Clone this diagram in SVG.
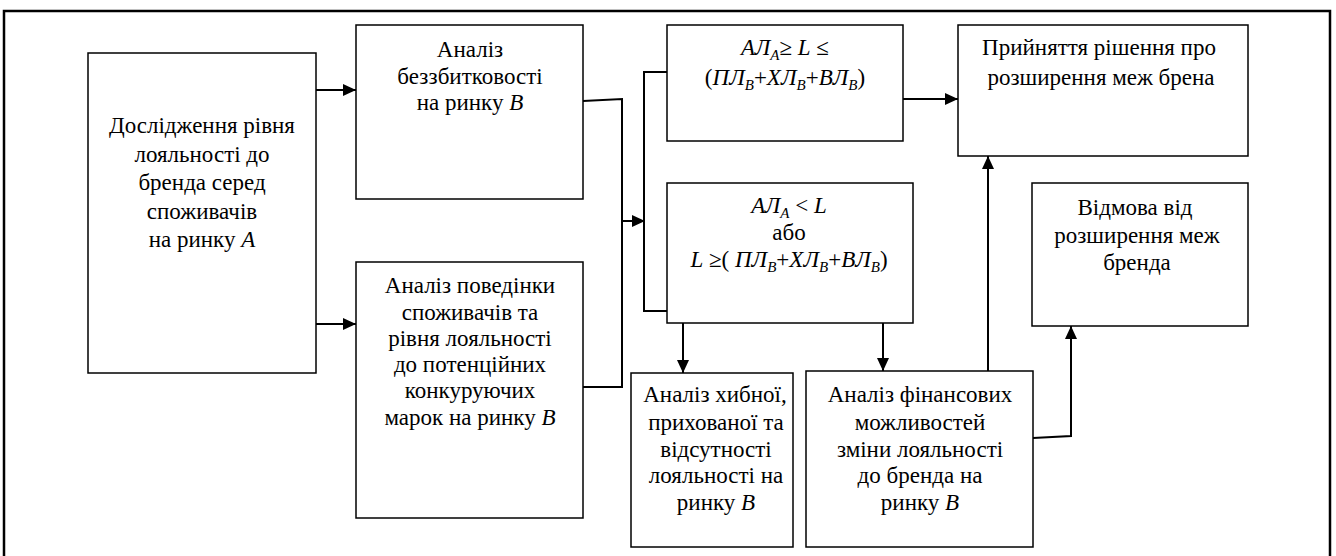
<svg xmlns="http://www.w3.org/2000/svg" width="1336" height="556" viewBox="0 0 1336 556" font-family="'Liberation Serif', serif">
  <defs>
    <marker id="arrow" markerUnits="userSpaceOnUse" markerWidth="14" markerHeight="12" refX="13" refY="6" orient="auto">
      <path d="M0,0 L13,6 L0,12 Z" fill="#000"/>
    </marker>
    <style>
      .frame { fill: none; stroke: #000; stroke-width: 2.5; }
      .box { fill: #fff; stroke: #000; stroke-width: 1.5; }
      .wire { fill: none; stroke: #000; stroke-width: 2; }
      .arr { marker-end: url(#arrow); }
      text { font-family: 'Liberation Serif', serif; font-size: 23px; fill: #000; text-anchor: middle; }
      .i { font-style: italic; }
      .sub { font-style: italic; font-size: 15px; }
    </style>
  </defs>

  <rect width="1336" height="556" fill="#fff"/>

  <!-- outer frame (open at the bottom) -->
  <path class="frame" d="M4,560 V11 H1330 V560"/>

  <g id="connectors">
    <path class="wire arr" d="M316,90 H356"/>
    <path class="wire arr" d="M316,324 H356"/>
    <path class="wire" d="M583,101 L622,99 V387 H583"/>
    <path class="wire arr" d="M622,221 H645"/>
    <path class="wire" d="M667,72 H644 V311 H667"/>
    <path class="wire arr" d="M903,99 H958"/>
    <path class="wire arr" d="M683,323 V373"/>
    <path class="wire arr" d="M883,323 V371"/>
    <path class="wire arr" d="M988,371 V156"/>
    <path class="wire arr" d="M1033,438 L1071,436 V326"/>
  </g>

  <g id="node-research">
    <rect class="box" x="88" y="53" width="228" height="320"/>
    <text x="202" y="133">Дослідження рівня</text>
    <text x="202" y="162">лояльності до</text>
    <text x="202" y="190">бренда серед</text>
    <text x="202" y="219">споживачів</text>
    <text x="202" y="247">на ринку <tspan class="i">A</tspan></text>
  </g>

  <g id="node-breakeven">
    <rect class="box" x="356" y="25" width="227" height="174"/>
    <text x="470" y="57">Аналіз</text>
    <text x="470" y="84">беззбитковості</text>
    <text x="470" y="110">на ринку <tspan class="i">B</tspan></text>
  </g>

  <g id="node-behaviour">
    <rect class="box" x="356" y="262" width="227" height="256"/>
    <text x="470" y="293">Аналіз поведінки</text>
    <text x="470" y="320">споживачів та</text>
    <text x="470" y="346">рівня лояльності</text>
    <text x="470" y="372">до потенційних</text>
    <text x="470" y="398">конкуруючих</text>
    <text x="470" y="425">марок на ринку <tspan class="i">B</tspan></text>
  </g>

  <g id="node-condition-yes">
    <rect class="box" x="667" y="25" width="236" height="116"/>
    <text x="785" y="55"><tspan class="i">АЛ</tspan><tspan class="sub" dy="5">A</tspan><tspan dy="-5">≥ </tspan><tspan class="i">L</tspan> ≤</text>
    <text x="785" y="85">(<tspan class="i">ПЛ</tspan><tspan class="sub" dy="5">B</tspan><tspan dy="-5">+</tspan><tspan class="i">ХЛ</tspan><tspan class="sub" dy="5">B</tspan><tspan dy="-5">+</tspan><tspan class="i">ВЛ</tspan><tspan class="sub" dy="5">B</tspan><tspan dy="-5">)</tspan></text>
  </g>

  <g id="node-condition-no">
    <rect class="box" x="667" y="183" width="246" height="140"/>
    <text x="789" y="213"><tspan class="i">АЛ</tspan><tspan class="sub" dy="5">A</tspan><tspan dy="-5"> &lt; </tspan><tspan class="i">L</tspan></text>
    <text x="789" y="240">або</text>
    <text x="789" y="267"><tspan class="i">L</tspan> ≥( <tspan class="i">ПЛ</tspan><tspan class="sub" dy="5">B</tspan><tspan dy="-5">+</tspan><tspan class="i">ХЛ</tspan><tspan class="sub" dy="5">B</tspan><tspan dy="-5">+</tspan><tspan class="i">ВЛ</tspan><tspan class="sub" dy="5">B</tspan><tspan dy="-5">)</tspan></text>
  </g>

  <g id="node-accept">
    <rect class="box" x="958" y="25" width="290" height="131"/>
    <text x="1099" y="55">Прийняття рішення про</text>
    <text x="1101" y="85">розширення меж брена</text>
  </g>

  <g id="node-refuse">
    <rect class="box" x="1032" y="183" width="216" height="143"/>
    <text x="1135" y="215">Відмова від</text>
    <text x="1137" y="243">розширення меж</text>
    <text x="1137" y="270">бренда</text>
  </g>

  <g id="node-false-loyalty">
    <rect class="box" x="631" y="373" width="162" height="174"/>
    <text x="715" y="402">Аналіз хибної,</text>
    <text x="716" y="430">прихованої та</text>
    <text x="716" y="457">відсутності</text>
    <text x="716" y="483">лояльності на</text>
    <text x="716" y="510">ринку <tspan class="i">B</tspan></text>
  </g>

  <g id="node-financial">
    <rect class="box" x="806" y="371" width="227" height="176"/>
    <text x="920" y="402">Аналіз фінансових</text>
    <text x="920" y="430">можливостей</text>
    <text x="920" y="457">зміни лояльності</text>
    <text x="920" y="483">до бренда на</text>
    <text x="920" y="510">ринку <tspan class="i">B</tspan></text>
  </g>
</svg>
